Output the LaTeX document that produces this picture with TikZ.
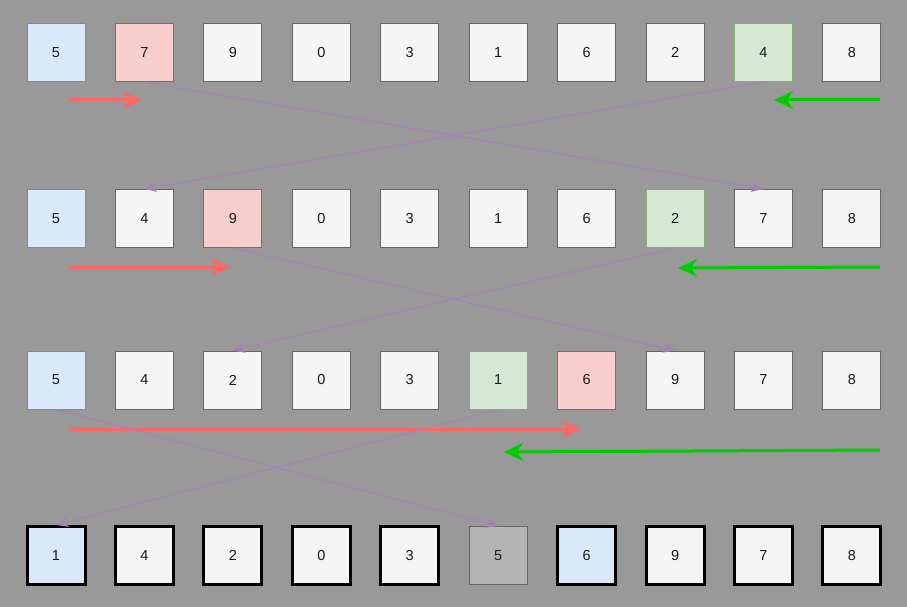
\documentclass[tikz,border=0pt]{standalone}
\usepackage{fontspec}
\setmainfont{Liberation Sans}
\usetikzlibrary{arrows.meta,positioning}
\definecolor{bgGray}{RGB}{153,153,153}
\definecolor{cellFill}{HTML}{F5F5F5}
\definecolor{cellLine}{HTML}{666666}
\definecolor{blueFill}{HTML}{DAE8FC}
\definecolor{blueLine}{HTML}{6C8EBF}
\definecolor{redFill}{HTML}{F8CECC}
\definecolor{redLine}{HTML}{B85450}
\definecolor{greenFill}{HTML}{D5E8D4}
\definecolor{greenLine}{HTML}{82B366}
\definecolor{doneFill}{HTML}{B3B3B3}
\definecolor{scanRed}{HTML}{FF6666}
\definecolor{scanGreen}{HTML}{00CC00}
\definecolor{swapViolet}{HTML}{A680B8}

\tikzset{
  cell/.style={minimum size=58pt, inner sep=0pt, line width=1pt,
    font=\fontsize{14.5}{16}\selectfont, text=black!90},
  cellplain/.style={cell, draw=cellLine, fill=cellFill},
  cellblue/.style={cell, draw=blueLine, fill=blueFill},
  cellred/.style={cell, draw=redLine, fill=redFill},
  cellgreen/.style={cell, draw=greenLine, fill=greenFill},
  cellfinal/.style={cell, draw=black, fill=cellFill, line width=3pt},
  cellfinalblue/.style={cell, draw=black, fill=blueFill, line width=3pt},
  celldone/.style={cell, draw=cellLine, fill=doneFill},
  scanright/.style={draw=scanRed, line width=3pt,
    -{Stealth[length=19pt,width=18pt,inset=6pt]}},
  scanleft/.style={draw=scanGreen, line width=3pt,
    -{Stealth[length=19pt,width=18pt,inset=6pt]}},
  swapline/.style={draw=swapViolet, line width=1pt,
    -{Stealth[length=12pt,width=10pt,inset=3pt]}}
}

\begin{document}
\begin{tikzpicture}[x=1pt,y=-1pt]
  \fill[bgGray] (0,0) rectangle (907,607);
  \useasboundingbox (0,0) rectangle (907,607);

  % row 1: pivot 5, i stops at 7, j stops at 4
  \foreach \i/\v/\s in {1/5/cellblue,2/7/cellred,3/9/cellplain,4/0/cellplain,
      5/3/cellplain,6/1/cellplain,7/6/cellplain,8/2/cellplain,9/4/cellgreen,
      10/8/cellplain}
    \node[\s] (a\i) at ({56+(\i-1)*88.44},52.5) {\v};

  % row 2
  \foreach \i/\v/\s in {1/5/cellblue,2/4/cellplain,3/9/cellred,4/0/cellplain,
      5/3/cellplain,6/1/cellplain,7/6/cellplain,8/2/cellgreen,9/7/cellplain,
      10/8/cellplain}
    \node[\s] (b\i) at ({56+(\i-1)*88.44},218.5) {\v};

  % row 3
  \foreach \i/\v/\s in {1/5/cellblue,2/4/cellplain,3/2/cellplain,4/0/cellplain,
      5/3/cellplain,6/1/cellgreen,7/6/cellred,8/9/cellplain,9/7/cellplain,
      10/8/cellplain}
    \node[\s] (c\i) at ({56+(\i-1)*88.44},380) {\v};

  % row 4: result
  \foreach \i/\v/\s in {1/1/cellfinalblue,2/4/cellfinal,3/2/cellfinal,
      4/0/cellfinal,5/3/cellfinal,6/5/celldone,7/6/cellfinalblue,
      8/9/cellfinal,9/7/cellfinal,10/8/cellfinal}
    \node[\s] (d\i) at ({56+(\i-1)*88.44},555.5) {\v};

  % scan pointers
  \coordinate (ia0) at (69,100);   \coordinate (ia1) at (142,100);
  \coordinate (ja0) at (880,100);  \coordinate (ja1) at (774,100);
  \coordinate (ib0) at (69,267);   \coordinate (ib1) at (230,267);
  \coordinate (jb0) at (880,267);  \coordinate (jb1) at (678,268);
  \coordinate (ic0) at (69,429);   \coordinate (ic1) at (581,429);
  \coordinate (jc0) at (880,450);  \coordinate (jc1) at (504,452);
  \draw[scanright] (ia0) -- (ia1);
  \draw[scanleft] (ja0) -- (ja1);
  \draw[scanright] (ib0) -- (ib1);
  \draw[scanleft] (jb0) -- (jb1);
  \draw[scanright] (ic0) -- (ic1);
  \draw[scanleft] (jc0) -- (jc1);

  % swaps
  \draw[swapline] (a2.south) -- (b9.north);
  \draw[swapline] (a9.south) -- (b2.north);
  \draw[swapline] (b3.south) -- (c8.north);
  \draw[swapline] (b8.south) -- (c3.north);
  \draw[swapline] (c1.south) -- (d6.north);
  \draw[swapline] (c6.south) -- (d1.north);
\end{tikzpicture}
\end{document}
